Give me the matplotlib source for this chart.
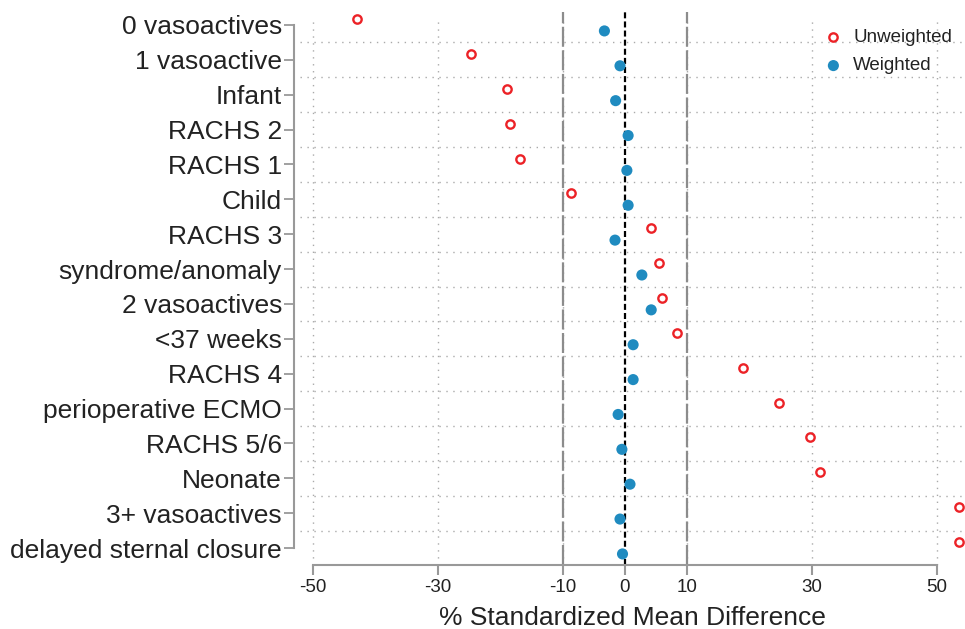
"""Covariate balance plot: standardized mean differences before/after weighting."""

import matplotlib.pyplot as plt
import numpy as np

plt.rcParams["font.family"] = ["Liberation Sans", "DejaVu Sans"]

categories = [
    "0 vasoactives", "1 vasoactive", "Infant", "RACHS 2", "RACHS 1", "Child",
    "RACHS 3", "syndrome/anomaly", "2 vasoactives", "<37 weeks", "RACHS 4",
    "perioperative ECMO", "RACHS 5/6", "Neonate", "3+ vasoactives",
    "delayed sternal closure",
]
unweighted = [-42.9, -24.7, -18.9, -18.4, -16.8, -8.7, 4.2, 5.4, 5.9, 8.3,
              18.9, 24.7, 29.7, 31.3, 53.6, 53.6]
weighted = [-3.3, -0.8, -1.5, 0.5, 0.3, 0.5, -1.6, 2.7, 4.2, 1.3,
            1.3, -1.1, -0.5, 0.8, -0.8, -0.4]
xticks = [-50, -30, -10, 0, 10, 30, 50]

RED = "#EC2227"
BLUE = "#1F8BC0"
GRAY = "#999999"
TEXT = "#222222"

fig = plt.figure(figsize=(9.65, 6.29), dpi=100)
ax = fig.add_axes([300 / 965, 1 - 565 / 629, 665 / 965, 553 / 629])

y = np.arange(len(categories))
off = 0.17

# dotted grid between rows and at x ticks
for yy in y[:-1] + 0.5:
    ax.axhline(yy, color="#aaaaaa", ls=(0, (1, 4)), lw=1, zorder=0)
for xx in [-50, -30, 30, 50, -10, 10]:
    ax.axvline(xx, color="#aaaaaa", ls=(0, (1, 4)), lw=1, ymax=1 - 5 / 553, zorder=0)
for xx in [-10, 10]:
    ax.axvline(xx, color="#8c8c8c", ls=(0, (9, 1.6)), lw=1.6, zorder=1)
ax.axvline(0, color="black", ls=(0, (2.7, 1.4)), lw=1.6, zorder=1)

ax.scatter(unweighted, y - off, s=36, facecolors="white", edgecolors=RED,
           linewidths=1.7, label="Unweighted", zorder=3, clip_on=False)
ax.scatter(weighted, y + off, s=64, color=BLUE, edgecolors="none",
           label="Weighted", zorder=3, clip_on=False)

ax.set_xlim((300 - 625) / 6.24, (965 - 625) / 6.24)
ax.set_ylim(15 + 17 / 34.87, -13 / 34.87)
ax.set_xticks(xticks)
ax.set_xticklabels([str(t) for t in xticks])
ax.set_yticks(y)
ax.set_yticklabels(categories)
ax.set_xlabel("% Standardized Mean Difference", fontsize=19, color=TEXT, labelpad=7)

for side in ["top", "right"]:
    ax.spines[side].set_visible(False)
ax.spines["left"].set_position(("outward", 4))
ax.spines["left"].set_bounds(0, 15)
ax.spines["bottom"].set_bounds(-50, 50)
for side in ["left", "bottom"]:
    ax.spines[side].set_color(GRAY)
    ax.spines[side].set_linewidth(1.5)
ax.tick_params(axis="y", colors=GRAY, labelcolor=TEXT, labelsize=19,
               length=7, width=1.3, pad=2)
ax.tick_params(axis="x", colors=GRAY, labelcolor=TEXT, labelsize=13.5,
               length=7, width=1.5, pad=3)

leg = fig.legend(handles=ax.collections, labels=["Unweighted", "Weighted"],
                 loc="upper left", bbox_to_anchor=(824 / 965, 1 - 29 / 629),
                 frameon=False, fontsize=13.5, handlelength=1.0,
                 handletextpad=0.55, labelspacing=0.6, borderpad=0,
                 borderaxespad=0)
for t in leg.get_texts():
    t.set_color(TEXT)

fig.savefig("out.png", dpi=100)
plt.close(fig)
